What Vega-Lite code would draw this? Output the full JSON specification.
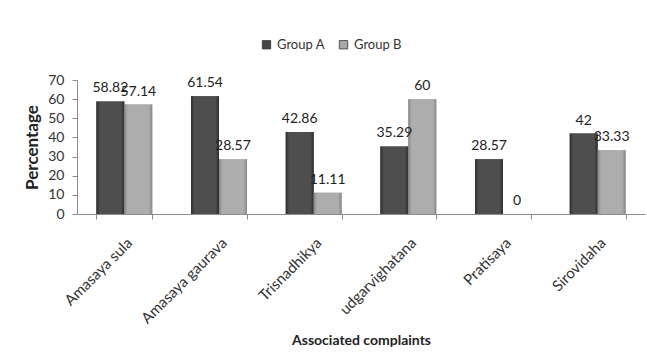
{
  "$schema": "https://vega.github.io/schema/vega-lite/v6.json",
  "autosize": {"type": "none"},
  "width": 568,
  "height": 134,
  "padding": {"left": 77, "top": 80, "right": 2, "bottom": 146},
  "background": "white",
  "config": {
    "font": "Lato",
    "view": {"stroke": null},
    "axis": {"labelFont": "Lato", "titleFont": "Lato", "labelColor": "#333333", "titleColor": "#222222", "domainColor": "#8c8c8c", "tickColor": "#8c8c8c", "grid": false}
  },
  "data": {
    "values": [
      {"complaint": "Amasaya sula", "group": "Group A", "value": 58.82},
      {"complaint": "Amasaya sula", "group": "Group B", "value": 57.14},
      {"complaint": "Amasaya gaurava", "group": "Group A", "value": 61.54},
      {"complaint": "Amasaya gaurava", "group": "Group B", "value": 28.57},
      {"complaint": "Trisnadhikya", "group": "Group A", "value": 42.86},
      {"complaint": "Trisnadhikya", "group": "Group B", "value": 11.11},
      {"complaint": "udgarvighatana", "group": "Group A", "value": 35.29},
      {"complaint": "udgarvighatana", "group": "Group B", "value": 60},
      {"complaint": "Pratisaya", "group": "Group A", "value": 28.57},
      {"complaint": "Pratisaya", "group": "Group B", "value": 0},
      {"complaint": "Sirovidaha", "group": "Group A", "value": 42},
      {"complaint": "Sirovidaha", "group": "Group B", "value": 33.33}
    ]
  },
  "encoding": {
    "x": {
      "field": "complaint", "type": "nominal", "sort": null,
      "scale": {"paddingInner": 0.41, "paddingOuter": 0.205},
      "axis": {"title": "Associated complaints", "titleFontSize": 14, "titleFontWeight": "bold", "titlePadding": 7,
               "labelAngle": -45, "labelFontSize": 15, "labelPadding": 16, "tickBand": "extent", "tickSize": 5}
    },
    "xOffset": {"field": "group", "type": "nominal", "scale": {"paddingInner": 0, "paddingOuter": 0}},
    "y": {
      "field": "value", "type": "quantitative",
      "scale": {"domain": [0, 70], "nice": false},
      "axis": {"title": "Percentage", "titleFontSize": 17, "titleFontWeight": "bold", "titlePadding": 6,
               "values": [0, 10, 20, 30, 40, 50, 60, 70], "labelFontSize": 14, "labelPadding": 8, "tickSize": 5}
    }
  },
  "layer": [
    {
      "mark": {"type": "bar"},
      "encoding": {
        "color": {
          "field": "group", "type": "nominal",
          "scale": {"domain": ["Group A", "Group B"], "range": ["#474747", "#a9a9a9"]},
          "legend": {"title": null, "orient": "none", "direction": "horizontal", "legendX": 183, "legendY": -42,
                     "symbolType": "square", "symbolSize": 70, "symbolStrokeColor": "#333333", "symbolStrokeWidth": 0.8,
                     "labelFontSize": 13, "labelColor": "#333333", "labelFont": "Lato", "columnPadding": 12, "symbolOffset": 0}
        }
      }
    },
    {
      "mark": {"type": "bar"},
      "encoding": {
        "fill": {
          "condition": {
            "test": "datum.group === 'Group A'",
            "value": {"gradient": "linear", "x1": 0, "x2": 1, "y1": 0, "y2": 0,
                      "stops": [{"offset": 0, "color": "#2c2c2c"}, {"offset": 0.12, "color": "#4e4e4e"}, {"offset": 0.88, "color": "#4e4e4e"}, {"offset": 1, "color": "#2c2c2c"}]}
          },
          "value": {"gradient": "linear", "x1": 0, "x2": 1, "y1": 0, "y2": 0,
                    "stops": [{"offset": 0, "color": "#858585"}, {"offset": 0.12, "color": "#adadad"}, {"offset": 0.88, "color": "#adadad"}, {"offset": 1, "color": "#858585"}]}
        }
      }
    },
    {
      "mark": {"type": "text", "baseline": "bottom", "dy": -6, "fontSize": 14, "font": "Lato", "color": "#222222"},
      "encoding": {
        "text": {"field": "value", "type": "quantitative", "format": "~g"}
      }
    }
  ]
}
